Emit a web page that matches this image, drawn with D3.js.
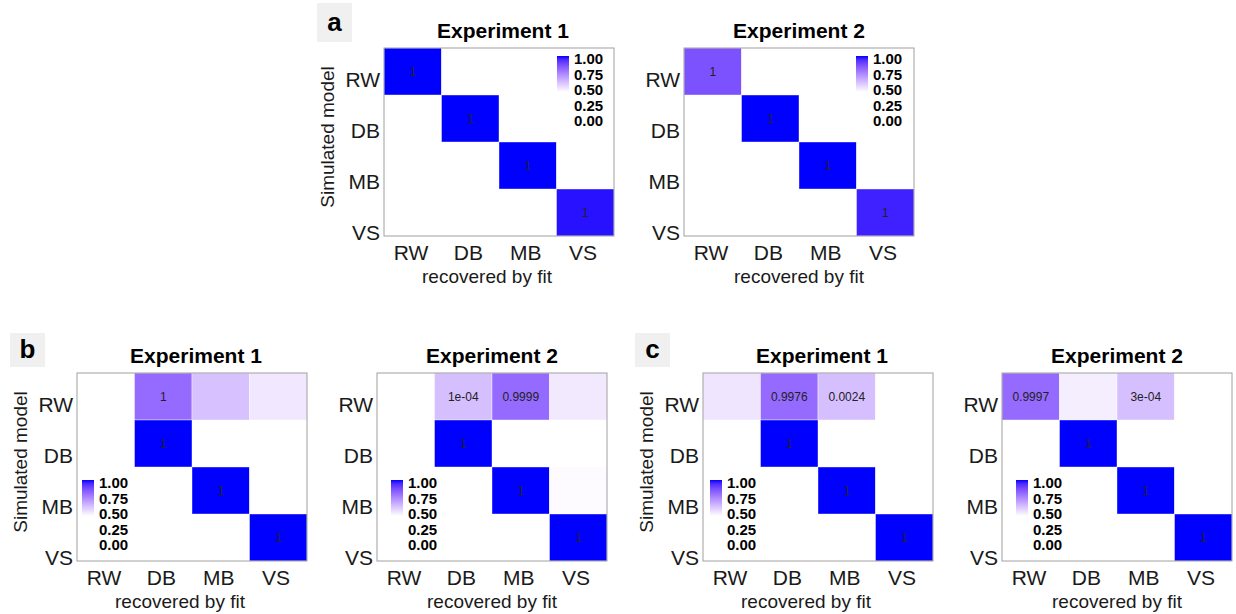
<!DOCTYPE html>
<html>
<head>
<meta charset="utf-8">
<script src="https://cdn.jsdelivr.net/npm/d3@7"></script>
<style>
  body { margin: 0; background: #fff; }
  text { font-family: "Liberation Sans", Arial, sans-serif; }
</style>
</head>
<body>
<div id="chart"></div>
<script>
// models on both axes
const models = ["RW", "DB", "MB", "VS"];
const legendTicks = [1.00, 0.75, 0.50, 0.25, 0.00];

// fill value of each cell (row = simulated, col = recovered)
const fillA1 = [[1, 0, 0, 0], [0, 1, 0, 0], [0, 0, 1, 0], [0, 0, 0, 0.97]];
const fillA2 = [[0.74, 0, 0, 0], [0, 1, 0, 0], [0, 0, 1, 0], [0, 0, 0, 0.93]];
const fillB1 = [[0, 0.63, 0.26, 0.1], [0, 1, 0, 0], [0, 0, 1, 0], [0, 0, 0, 1]];
const fillB2 = [[0, 0.27, 0.63, 0.09], [0, 1, 0, 0], [0, 0, 1, 0.015], [0, 0, 0, 1]];
const fillC1 = [[0.11, 0.63, 0.27, 0], [0, 1, 0, 0], [0, 0, 1, 0], [0, 0, 0, 1]];
const fillC2 = [[0.63, 0.07, 0.27, 0], [0, 1, 0, 0], [0, 0, 1, 0], [0, 0, 0, 1]];

// text printed in each cell
const labelA1 = [["1", "", "", ""], ["", "1", "", ""], ["", "", "1", ""], ["", "", "", "1"]];
const labelA2 = [["1", "", "", ""], ["", "1", "", ""], ["", "", "1", ""], ["", "", "", "1"]];
const labelB1 = [["", "1", "", ""], ["", "1", "", ""], ["", "", "1", ""], ["", "", "", "1"]];
const labelB2 = [["", "1e-04", "0.9999", ""], ["", "1", "", ""], ["", "", "1", ""], ["", "", "", "1"]];
const labelC1 = [["", "0.9976", "0.0024", ""], ["", "1", "", ""], ["", "", "1", ""], ["", "", "", "1"]];
const labelC2 = [["0.9997", "", "3e-04", ""], ["", "1", "", ""], ["", "", "1", ""], ["", "", "", "1"]];

const panels = [
  {title: "Experiment 1", fill: fillA1, label: labelA1, x: 384, y: 48, lx: 557, ly: 56, yTitle: true},
  {title: "Experiment 2", fill: fillA2, label: labelA2, x: 684, y: 48, lx: 856, ly: 56, yTitle: false},
  {title: "Experiment 1", fill: fillB1, label: labelB1, x: 77, y: 373, lx: 82, ly: 480, yTitle: true},
  {title: "Experiment 2", fill: fillB2, label: labelB2, x: 377, y: 373, lx: 391, ly: 480, yTitle: false},
  {title: "Experiment 1", fill: fillC1, label: labelC1, x: 703, y: 373, lx: 710, ly: 480, yTitle: true},
  {title: "Experiment 2", fill: fillC2, label: labelC2, x: 1002, y: 373, lx: 1016, ly: 480, yTitle: false}
];

const letters = [
  {t: "a", x: 317, y: 3, w: 35, h: 39},
  {t: "b", x: 10, y: 333, w: 35, h: 34},
  {t: "c", x: 635, y: 333, w: 35, h: 34}
];

const W = 1236, H = 614;
const pw = 230, ph = 188;

const svg = d3.select("#chart").append("svg")
  .attr("width", W)
  .attr("height", H);

const color = d3.scaleLinear()
  .domain([0, 1])
  .range(["#ffffff", "#0000ff"])
  .interpolate(d3.interpolateLab);

// gradient for the legend bar
const grad = svg.append("defs").append("linearGradient")
  .attr("id", "lg")
  .attr("x1", 0).attr("y1", 0).attr("x2", 0).attr("y2", 1);
d3.range(0, 1.01, 0.1).forEach(t => {
  grad.append("stop")
    .attr("offset", t)
    .attr("stop-color", color(1 - t));
});

const x = d3.scaleBand().domain(models).range([0, pw]);
const y = d3.scaleBand().domain(models).range([0, ph]);
// tick labels sit a bit off the cell centres in the original
const xLab = d3.scalePoint().domain(models).range([27, 199]);
const yLab = d3.scalePoint().domain(models).range([32, 185]);
const legY = d3.scalePoint().domain(legendTicks).range([0, 62]);

panels.forEach(p => {
  const g = svg.append("g")
    .attr("transform", "translate(" + p.x + "," + p.y + ")");

  let cells = [];
  models.forEach((r, i) => {
    models.forEach((c, j) => {
      cells.push({row: r, col: c, v: p.fill[i][j], lab: p.label[i][j]});
    });
  });

  g.selectAll("rect.cell")
    .data(cells)
    .enter().append("rect")
    .attr("class", "cell")
    .attr("x", d => x(d.col))
    .attr("y", d => y(d.row))
    .attr("width", x.bandwidth())
    .attr("height", y.bandwidth())
    .attr("fill", d => color(d.v))
    .attr("stroke", d => d.v > 0 ? "rgba(255,255,255,0.5)" : "none")
    .attr("stroke-width", 0.8);

  g.selectAll("text.val")
    .data(cells.filter(d => d.lab !== ""))
    .enter().append("text")
    .attr("class", "val")
    .attr("x", d => x(d.col) + x.bandwidth() / 2)
    .attr("y", d => y(d.row) + y.bandwidth() / 2 + 4)
    .attr("text-anchor", "middle")
    .attr("font-size", 12)
    .attr("fill", "#222")
    .text(d => d.lab);

  // frame
  g.append("rect")
    .attr("x", 0).attr("y", 0)
    .attr("width", pw).attr("height", ph)
    .attr("fill", "none")
    .attr("stroke", "#a0a0a0")
    .attr("stroke-width", 1);

  // tick labels
  g.selectAll("text.xt")
    .data(models)
    .enter().append("text")
    .attr("class", "xt")
    .attr("x", d => xLab(d))
    .attr("y", ph + 24)
    .attr("text-anchor", "middle")
    .attr("font-size", 21)
    .attr("fill", "#1a1a1a")
    .text(d => d);

  g.selectAll("text.yt")
    .data(models)
    .enter().append("text")
    .attr("class", "yt")
    .attr("x", -4)
    .attr("y", d => yLab(d) + 7)
    .attr("text-anchor", "end")
    .attr("font-size", 21)
    .attr("fill", "#1a1a1a")
    .text(d => d);

  const shift = p.yTitle ? 1 : 0;

  g.append("text")
    .attr("x", pw / 2 + 4 * shift)
    .attr("y", -10)
    .attr("text-anchor", "middle")
    .attr("font-size", 21)
    .attr("font-weight", "bold")
    .attr("fill", "#000")
    .text(p.title);

  g.append("text")
    .attr("x", pw / 2 - 12 * shift)
    .attr("y", ph + 47)
    .attr("text-anchor", "middle")
    .attr("font-size", 19)
    .attr("fill", "#1a1a1a")
    .text("recovered by fit");

  if (p.yTitle) {
    g.append("text")
      .attr("transform", "translate(-57," + (ph / 2 - 5) + ") rotate(-90)")
      .attr("dy", "0.35em")
      .attr("text-anchor", "middle")
      .attr("font-size", 19)
      .attr("fill", "#1a1a1a")
      .text("Simulated model");
  }

  // legend
  const lg = svg.append("g")
    .attr("transform", "translate(" + p.lx + "," + p.ly + ")");
  lg.append("rect")
    .attr("x", 0).attr("y", 0)
    .attr("width", 12).attr("height", 36)
    .attr("fill", "url(#lg)");
  lg.selectAll("text")
    .data(legendTicks)
    .enter().append("text")
    .attr("x", 17)
    .attr("y", d => legY(d) + 8)
    .attr("font-size", 15)
    .attr("font-weight", "bold")
    .attr("fill", "#000")
    .text(d => d.toFixed(2));
});

// panel letters
letters.forEach(l => {
  svg.append("rect")
    .attr("x", l.x).attr("y", l.y)
    .attr("width", l.w).attr("height", l.h)
    .attr("fill", "#f0f0f0");
  svg.append("text")
    .attr("x", l.x + l.w / 2)
    .attr("y", l.y + l.h / 2 + 8)
    .attr("text-anchor", "middle")
    .attr("font-size", 26)
    .attr("font-weight", "bold")
    .attr("fill", "#000")
    .text(l.t);
});
</script>
</body>
</html>
